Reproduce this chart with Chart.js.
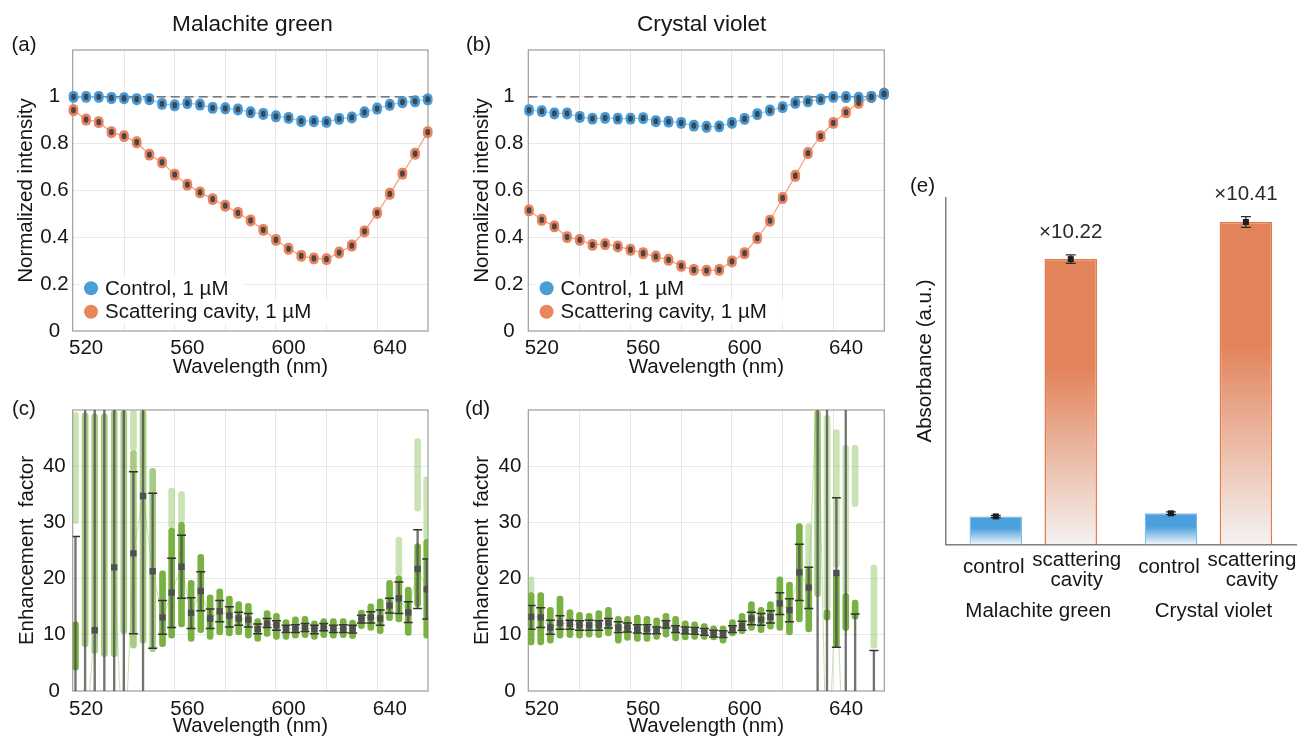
<!DOCTYPE html>
<html><head><meta charset="utf-8">
<script src="https://cdn.jsdelivr.net/npm/chart.js@4.4.1/dist/chart.umd.min.js"></script>
<style>
html,body{margin:0;padding:0;background:#fff;}
#wrap{position:relative;width:1301px;height:740px;overflow:hidden;background:#fff;}
canvas{position:absolute;}
</style></head><body>
<div id="wrap">
<canvas id="ca" width="440" height="380" style="left:0;top:0"></canvas>
<canvas id="cb" width="460" height="380" style="left:440px;top:0"></canvas>
<canvas id="cc" width="440" height="360" style="left:0;top:380px"></canvas>
<canvas id="cd" width="460" height="360" style="left:440px;top:380px"></canvas>
<canvas id="ce" width="401" height="470" style="left:900px;top:160px"></canvas>
</div>
<script>
// ---------------- DATA ----------------
const wl5 = [515,520,525,530,535,540,545,550,555,560,565,570,575,580,585,590,595,600,605,610,615,620,625,630,635,640,645,650,655];
const mgControl = [1.00,1.00,1.00,0.995,0.994,0.99,0.99,0.97,0.964,0.973,0.967,0.953,0.951,0.946,0.934,0.927,0.917,0.91,0.896,0.896,0.893,0.906,0.912,0.934,0.95,0.966,0.977,0.981,0.989];
const mgCavity  = [0.943,0.903,0.892,0.849,0.832,0.806,0.753,0.72,0.668,0.625,0.592,0.563,0.535,0.504,0.472,0.432,0.389,0.351,0.321,0.31,0.307,0.335,0.365,0.425,0.504,0.586,0.672,0.757,0.849];
const cvControl = [0.943,0.939,0.929,0.929,0.914,0.907,0.91,0.907,0.907,0.909,0.896,0.894,0.889,0.877,0.872,0.874,0.889,0.906,0.926,0.942,0.956,0.974,0.981,0.989,1.0,0.999,0.996,1.0,1.013];
const cvCavity  = [0.515,0.475,0.447,0.401,0.389,0.368,0.371,0.361,0.347,0.332,0.318,0.304,0.278,0.261,0.258,0.261,0.297,0.332,0.397,0.471,0.568,0.663,0.76,0.832,0.889,0.934,0.974,1.0,1.013];
const replicateSpread = 0.024;   // half-height of the replicate cluster at each wavelength
const refLevel = 1;

const wlEF = [515.8,519.6,523.4,527.2,531.1,534.9,538.7,542.5,546.3,550.2,553.8,557.7,561.5,565.3,569.0,572.8,576.6,580.3,584.1,587.8,591.5,595.2,599.0,602.7,606.5,610.2,613.9,617.7,621.6,625.3,628.8,632.5,636.2,639.9,643.6,647.3,651.0,654.6];
// Malachite green enhancement factor
const mgEFMean   = [-3,-9,10.8,null,22,-15,24.5,34.7,21.3,13.1,17.5,22.1,13.9,17.8,12.9,14.2,13.4,12.9,12.7,11.0,12.0,11.7,11.0,11.1,11.3,11.0,11.4,11.1,11.1,11.0,12.9,13.1,12.9,15.2,16.5,14.0,21.7,18.1];
const mgEFErrLo  = [-5,-30,-30,-30,-30,-30,10.2,-10,7.6,10.1,11.3,16.5,11.1,14.3,11.1,12.3,11.4,11.7,11.4,10.2,11.3,10.8,10.4,10.4,10.6,10.2,10.7,10.4,10.4,10.3,12.1,12.1,11.7,13.9,13.8,12.2,14.7,12.8];
const mgEFErrHi  = [27.5,60,60,60,60,60,39,60,35.2,16.1,23.6,27.7,16.6,21.2,14.6,16.1,15,14,13.8,11.9,12.9,12.5,11.7,11.8,12,11.7,12,11.7,11.8,11.7,13.5,14.1,14.4,16.5,19.4,15.9,28.7,23.5];
const mgEFCloudLo = [3.7,7.9,6.7,6.1,6.1,10.2,7.6,8.5,7.0,7.9,9.4,11.4,8.8,10.4,9.2,10,9.8,10,9.4,8.8,9.7,9.2,9.2,9.4,9.5,9.2,9.5,9.4,9.5,9.3,11.1,10.8,10.2,12.5,12.3,9.9,15,9.4];
const mgEFCloudHi = [12.3,49.5,49.3,49.3,49.9,49.9,42.8,49.9,39.6,21.4,29,30,19.7,24.3,17.1,18.2,16.9,15.9,15.6,12.9,14.3,13.8,12.7,13.2,13.3,12.5,12.9,12.9,12.9,12.6,14.4,15.5,16.4,19.7,20.5,18.5,26.2,27];
const mgEFFaintLo = [29.8,null,null,null,null,null,42.8,null,null,null,29,30,null,null,null,null,null,null,null,null,null,null,null,null,null,null,null,null,null,null,null,null,null,null,20.5,null,32,27];
const mgEFFaintHi = [49.6,null,null,null,null,null,49.9,null,null,null,36.1,35.5,null,null,null,null,null,null,null,null,null,null,null,null,null,null,null,null,null,null,null,null,null,null,27.4,null,44.9,38.1];
// Crystal violet enhancement factor
const cvEFMean   = [13.2,13.1,11.3,12.1,11.9,11.7,11.7,11.7,12.1,11.3,11.3,11.0,11.0,10.8,11.9,11.0,10.8,10.7,10.5,10.2,10.1,11.0,11.6,12.9,12.7,13.2,15.6,14.4,21.1,18.4,58,-20,21.0,-25,-3,null,-5,null];
const cvEFErrLo  = [11,11.3,10.1,11,11,10.8,10.8,10.8,11.2,10.4,10.5,10.3,10.2,10.2,11.2,10.4,10.2,10.1,9.9,9.6,9.5,10.4,10.8,11.8,11.7,12.1,13.6,12.3,16.1,14.7,-30,-30,7.8,-30,-10,null,-10,null];
const cvEFErrHi  = [15.2,14.8,12.6,13.4,12.6,12.5,12.6,12.5,12.9,12.3,12.1,11.8,11.8,11.4,12.5,11.6,11.4,11.3,11.1,10.8,10.7,11.6,12.4,14,13.8,14.3,17.5,16.4,26.1,22,80,60,34.4,60,13.7,null,7.2,null];
const cvEFCloudLo = [8.2,8.2,8.5,9.4,9.5,9.4,9.6,9.5,9.8,8.5,9.0,8.8,8.8,9.2,9.6,8.9,9.1,9.2,9.2,9.1,8.5,9.8,10.2,10.8,10.4,11.0,10.8,10.0,12.3,10.5,16.8,12.6,7.8,10.8,12.8,null,null,null];
const cvEFCloudHi = [17.5,17.5,14.9,16.9,14.5,14.0,13.8,14.3,14.9,13.3,13.3,13.5,13.3,13.0,13.8,13.3,12.5,12.3,12.0,11.6,11.6,12.7,13.8,15.9,14.9,15.9,20.3,19.4,29.8,22,49.9,14.5,21,17.4,16.2,null,null,null];
const cvEFFaintLo = [17.5,null,null,null,null,null,null,null,null,null,null,null,null,null,null,null,null,null,null,null,null,null,null,null,null,null,null,null,null,22,null,14.5,22,17.4,32.8,null,7.6,null];
const cvEFFaintHi = [20.3,null,null,null,null,null,null,null,null,null,null,null,null,null,null,null,null,null,null,null,null,null,null,null,null,null,null,null,null,29.8,null,49,46.5,43.7,43.7,null,22.4,null];

// Absorbance bars
const groups = ['Malachite green', 'Crystal violet'];
const barNames = ['control', 'scattering cavity'];
const absControl = [1.00, 1.11];
const absCavity = [10.22, 11.55];
const absControlErr = [0.04, 0.05];
const absCavityErr = [0.155, 0.19];
const foldLabels = ['\u00d710.22', '\u00d710.41'];

// axis ticks
const xMin = 514.7, xMax = 655.1;
const xLabelTicks = [520, 560, 600, 640];
const xGridTicks = [535, 555, 575, 595, 615, 635];

// ---------------- STYLE / HELPERS ----------------
const FONT = "'Liberation Sans', Arial, Helvetica, sans-serif";
const INK = '#161616';
const FS = 20.5;
Chart.defaults.font.family = FONT;
Chart.defaults.font.size = FS;
Chart.defaults.color = INK;
Chart.defaults.animation = false;
Chart.defaults.responsive = false;
Chart.defaults.plugins.legend.display = false;
Chart.defaults.plugins.tooltip.enabled = false;

const framePlugin = {
  id: 'frame',
  beforeDatasetsDraw(chart, args, opts) {
    if (!opts.on) return;
    const {ctx, chartArea: a} = chart;
    ctx.save();
    ctx.strokeStyle = '#9d9d9d'; ctx.lineWidth = 1.2;
    ctx.strokeRect(a.left, a.top, a.right - a.left, a.bottom - a.top);
    ctx.restore();
  }
};
const textPlugin = {
  id: 'texts',
  afterDraw(chart, args, opts) {
    const ctx = chart.ctx;
    (opts.items || []).forEach(t => {
      ctx.save();
      ctx.font = (t.size || FS) + 'px ' + FONT;
      ctx.fillStyle = t.color || INK;
      ctx.textAlign = t.align || 'center';
      ctx.textBaseline = 'middle';
      ctx.translate(t.x, t.y);
      if (t.rot) ctx.rotate(t.rot);
      ctx.fillText(t.text, 0, 0);
      ctx.restore();
    });
  }
};
const legendPlugin = {
  id: 'dotLegend',
  beforeDatasetsDraw(chart, args, opts) {
    if (!opts.items) return;
    const ctx = chart.ctx, a = chart.chartArea;
    ctx.save();
    ctx.font = FS + 'px ' + FONT;
    opts.items.forEach((it, k) => {
      const label = chart.data.datasets[it.ds].label;
      const cx = a.left + opts.dx, cy = opts.y0 + k * opts.dy;
      const w = ctx.measureText(label).width;
      ctx.fillStyle = '#fff';
      ctx.fillRect(cx - 11, cy - 12, w + 14 + 11 + 16, 24);
    });
    ctx.restore();
  },
  afterDatasetsDraw(chart, args, opts) {
    if (!opts.items) return;
    const ctx = chart.ctx, a = chart.chartArea;
    ctx.save();
    ctx.font = FS + 'px ' + FONT;
    ctx.textBaseline = 'middle';
    opts.items.forEach((it, k) => {
      const label = chart.data.datasets[it.ds].label;
      const cx = a.left + opts.dx, cy = opts.y0 + k * opts.dy;
      ctx.fillStyle = it.color;
      ctx.beginPath(); ctx.arc(cx, cy, 7, 0, Math.PI * 2); ctx.fill();
      ctx.fillStyle = INK; ctx.textAlign = 'left';
      ctx.fillText(label, cx + 14, cy + 1);
    });
    ctx.restore();
  }
};

function xScale(tickPad, titlePadBottom, height) {
  return {
    type: 'linear', min: xMin, max: xMax, offset: false,
    afterBuildTicks: s => { s.ticks = xLabelTicks.concat(xGridTicks).sort((p, q) => p - q).map(v => ({value: v})); },
    afterFit: s => { s.height = height; },
    grid: { offset: false, drawTicks: false, lineWidth: 1,
      color: c => (c.tick && xGridTicks.includes(c.tick.value)) ? '#e6e6e6' : 'rgba(0,0,0,0)' },
    border: { display: false },
    ticks: { autoSkip: false, maxRotation: 0, minRotation: 0, padding: tickPad,
      callback: v => xLabelTicks.includes(v) ? String(v) : '' },
    title: { display: true, text: 'Wavelength (nm)', padding: {top: 0, bottom: titlePadBottom} }
  };
}
function yScale(max, step, title, tickPad, titlePad, width) {
  return {
    type: 'linear', min: 0, max: max,
    ticks: { stepSize: step, padding: tickPad, crossAlign: 'center',
      callback: v => (Math.abs(v - max) < 1e-9 ? '' : String(+Number(v).toFixed(2))) },
    grid: { drawTicks: false, lineWidth: 1,
      color: c => (c.tick && c.tick.value > 1e-9 && c.tick.value < max - 1e-9) ? '#e9e9e9' : 'rgba(0,0,0,0)' },
    border: { display: false },
    afterFit: s => { s.width = width; },
    title: { display: true, text: title, padding: {top: titlePad, bottom: 0} }
  };
}

function spectraChart(id, ctrl, cav, geo) {
  const blob = (arr, f) => arr.map((v, i) => ({x: wl5[i], y: [v - replicateSpread * f, v + replicateSpread * f]}));
  const line = arr => arr.map((v, i) => ({x: wl5[i], y: v}));
  const common = {type: 'bar', grouped: false, borderSkipped: false, clip: false};
  return new Chart(document.getElementById(id), {
    type: 'scatter',
    data: { datasets: [
      Object.assign({}, common, {label: 'Control, 1 \u00b5M (mean)', data: blob(ctrl, 0.5), backgroundColor: '#3b4753', barThickness: 4, borderRadius: 2, order: 1}),
      Object.assign({}, common, {label: 'Scattering cavity, 1 \u00b5M (mean)', data: blob(cav, 0.5), backgroundColor: '#4a4646', barThickness: 4, borderRadius: 2, order: 1}),
      Object.assign({}, common, {label: 'Control, 1 \u00b5M', data: blob(ctrl, 1), backgroundColor: 'rgba(55,145,210,0.92)', barThickness: 9, borderRadius: 4.5, order: 2}),
      Object.assign({}, common, {label: 'Scattering cavity, 1 \u00b5M', data: blob(cav, 1), backgroundColor: 'rgba(231,121,80,0.92)', barThickness: 9, borderRadius: 4.5, order: 2}),
      {type: 'line', label: 'control trend', data: line(ctrl), borderColor: '#9ccbed', borderWidth: 1.3, pointRadius: 0, order: 3},
      {type: 'line', label: 'cavity trend', data: line(cav), borderColor: '#f2a486', borderWidth: 1.3, pointRadius: 0, order: 3},
      {type: 'line', label: 'reference', data: [{x: xMin, y: refLevel}, {x: xMax, y: refLevel}], borderColor: '#555', borderDash: [9, 5], borderWidth: 1.2, pointRadius: 0, order: 4}
    ]},
    options: {
      layout: { padding: {left: 0, top: geo.top, right: geo.right, bottom: 0} },
      scales: { x: xScale(5, 0, geo.xh), y: yScale(1.2, 0.2, 'Normalized intensity', geo.ytp, geo.ytitle, geo.yw) },
      plugins: {
        frame: {on: true},
        dotLegend: { dx: 18.3, y0: 288.3, dy: 23.5, items: [{ds: 2, color: '#4a9ed6'}, {ds: 3, color: '#e8865c'}] },
        texts: { items: geo.texts }
      }
    },
    plugins: [framePlugin, legendPlugin, textPlugin]
  });
}

// replicate clouds that spread over a wide range look sparser (lighter)
const cloudColor = c => {
  const r = c.raw && Array.isArray(c.raw.y) ? Math.abs(c.raw.y[1] - c.raw.y[0]) : 0;
  return r > 25 ? 'rgba(112,175,55,0.62)' : 'rgba(106,170,46,0.9)';
};

function efChart(id, d, geo) {
  const pts = arr => arr.map((v, i) => v == null ? null : {x: wlEF[i], y: v}).filter(Boolean);
  const rng = (lo, hi) => lo.map((v, i) => (v == null || hi[i] == null) ? null : {x: wlEF[i], y: [v, hi[i]]}).filter(Boolean);
  return new Chart(document.getElementById(id), {
    type: 'scatter',
    data: { datasets: [
      {type: 'scatter', label: 'mean', data: pts(d.mean), pointStyle: 'rect', pointRadius: 4.5, backgroundColor: '#4f4f4f', borderWidth: 0, order: 1, clip: 0},
      {type: 'scatter', label: 'lower', data: pts(d.lo), pointStyle: 'line', pointRadius: 4.5, borderColor: '#333', borderWidth: 1.5, order: 2, clip: 0},
      {type: 'scatter', label: 'upper', data: pts(d.hi), pointStyle: 'line', pointRadius: 4.5, borderColor: '#333', borderWidth: 1.5, order: 2, clip: 0},
      {type: 'bar', label: 'std', data: rng(d.lo, d.hi), backgroundColor: 'rgba(80,80,80,0.8)', barThickness: 1.7, grouped: false, order: 3, clip: 0},
      {type: 'bar', label: 'replicates', data: rng(d.cLo, d.cHi), backgroundColor: cloudColor, barThickness: 6, borderRadius: 3, borderSkipped: false, grouped: false, order: 4, clip: 0},
      {type: 'bar', label: 'replicates (sparse)', data: rng(d.fLo, d.fHi), backgroundColor: 'rgba(150,200,105,0.5)', barThickness: 6, borderRadius: 3, borderSkipped: false, grouped: false, order: 5, clip: 0},
      {type: 'line', label: 'trend', data: d.mean.map((v, i) => ({x: wlEF[i], y: v})), borderColor: 'rgba(160,205,125,0.6)', borderWidth: 1, pointRadius: 0, spanGaps: false, order: 6, clip: 0}
    ]},
    options: {
      layout: { padding: {left: 0, top: geo.top, right: geo.right, bottom: 0} },
      scales: { x: xScale(geo.xtp, geo.xtb, geo.xh), y: yScale(50, 10, 'Enhancement  factor', geo.ytp, geo.ytitle, geo.yw) },
      plugins: { frame: {on: true}, texts: { items: geo.texts } }
    },
    plugins: [framePlugin, textPlugin]
  });
}

// ---------------- PANELS ----------------
spectraChart('ca', mgControl, mgCavity, {top: 50, right: 12, xh: 49, ytp: 4, ytitle: 14, yw: 72.7,
  texts: [{text: 'Malachite green', x: 252.5, y: 25, size: 22.6}, {text: '(a)', x: 11.5, y: 45, align: 'left'}]});
spectraChart('cb', cvControl, cvCavity, {top: 50, right: 15.7, xh: 49, ytp: 5, ytitle: 30.5, yw: 88.3,
  texts: [{text: 'Crystal violet', x: 261.7, y: 25, size: 22.6}, {text: '(b)', x: 26, y: 45, align: 'left'}]});
efChart('cc', {mean: mgEFMean, lo: mgEFErrLo, hi: mgEFErrHi, cLo: mgEFCloudLo, cHi: mgEFCloudHi, fLo: mgEFFaintLo, fHi: mgEFFaintHi},
  {top: 30, right: 12, xh: 49, xtp: 6, xtb: 1, ytp: 7, ytitle: 14.7, yw: 72.7,
   texts: [{text: '(c)', x: 12, y: 29, align: 'left'}]});
efChart('cd', {mean: cvEFMean, lo: cvEFErrLo, hi: cvEFErrHi, cLo: cvEFCloudLo, cHi: cvEFCloudHi, fLo: cvEFFaintLo, fHi: cvEFFaintHi},
  {top: 30, right: 15.7, xh: 49, xtp: 6, xtb: 1, ytp: 7, ytitle: 30.5, yw: 88.3,
   texts: [{text: '(d)', x: 25, y: 29, align: 'left'}]});

// ---- panel (e) ----
function barGradient(topColor, midStop, bottomColor) {
  return c => {
    const chart = c.chart;
    if (!chart.chartArea || c.raw == null || !chart.scales.y) return topColor;
    const ys = chart.scales.y;
    const t = ys.getPixelForValue(c.raw), b = ys.getPixelForValue(0);
    if (!isFinite(t) || !isFinite(b) || b - t < 1) return topColor;
    const g = chart.ctx.createLinearGradient(0, t, 0, b);
    g.addColorStop(0, topColor); g.addColorStop(midStop, topColor); g.addColorStop(1, bottomColor);
    return g;
  };
}
const barLines = barNames.map(n => n === 'control' ? [n] : n.split(' '));
const barLabelShift = [-2, 6];
const errs = [absControlErr, absCavityErr];
const barExtrasPlugin = {
  id: 'barExtras',
  afterDatasetsDraw(chart) {
    const ctx = chart.ctx, ys = chart.scales.y, a = chart.chartArea;
    ctx.save();
    chart.data.datasets.forEach((ds, i) => {
      const meta = chart.getDatasetMeta(i);
      meta.data.forEach((el, j) => {
        const v = ds.data[j], e = errs[i][j];
        const yT = ys.getPixelForValue(v + e), yB = ys.getPixelForValue(v - e), yM = ys.getPixelForValue(v);
        ctx.strokeStyle = '#2b2b2b'; ctx.lineWidth = 1.3;
        ctx.beginPath();
        ctx.moveTo(el.x, yT); ctx.lineTo(el.x, yB);
        ctx.moveTo(el.x - 5, yT); ctx.lineTo(el.x + 5, yT);
        ctx.moveTo(el.x - 5, yB); ctx.lineTo(el.x + 5, yB);
        ctx.stroke();
        ctx.fillStyle = '#1e1e1e';
        ctx.fillRect(el.x - 3, yM - 3, 6, 6);
        ctx.fillStyle = INK; ctx.font = FS + 'px ' + FONT; ctx.textAlign = 'center'; ctx.textBaseline = 'middle';
        const lines = barLines[i];
        if (lines.length === 1) ctx.fillText(lines[0], el.x + barLabelShift[i], a.bottom + 23);
        else lines.forEach((s, k) => ctx.fillText(s, el.x + barLabelShift[i], a.bottom + 16 + k * 20));
        if (i === 1) {
          ctx.fillStyle = '#2a2a2a';
          ctx.fillText(foldLabels[j], el.x, yT - 22);
        }
      });
    });
    ctx.restore();
  }
};
new Chart(document.getElementById('ce'), {
  type: 'bar',
  data: { labels: groups.map(g => ['', '', g]), datasets: [
    {label: barNames[0], data: absControl, backgroundColor: barGradient('#4a9fdc', 0.42, '#eef5fb'), borderColor: '#7ab7e3', borderWidth: 1.2},
    {label: barNames[1], data: absCavity, backgroundColor: barGradient('#e2835a', 0.38, '#f4f2f1'), borderColor: '#e47a4a', borderWidth: 1.5}
  ]},
  options: {
    layout: { padding: {left: 0, top: 38, right: 5, bottom: 0} },
    datasets: { bar: { categoryPercentage: 0.856, barPercentage: 0.70 } },
    scales: {
      x: { grid: {display: false, drawTicks: false}, border: {display: true, color: '#7f7f7f', width: 1.5},
           ticks: {padding: 6, autoSkip: false, maxRotation: 0, labelOffset: 5}, afterFit: s => { s.height = 85.7; } },
      y: { min: 0, max: 12.41, ticks: {display: false}, grid: {display: false, drawTicks: false},
           border: {display: true, color: '#7f7f7f', width: 1.5},
           title: {display: false, text: 'Absorbance (a.u.)'},
           afterFit: s => { s.width = 45.7; } }
    },
    plugins: { texts: { items: [
      {text: '(e)', x: 10, y: 26, align: 'left'},
      {text: 'Absorbance (a.u.)', x: 25, y: 201, rot: -Math.PI / 2}
    ] } }
  },
  plugins: [barExtrasPlugin, textPlugin]
});
</script>
</body></html>
